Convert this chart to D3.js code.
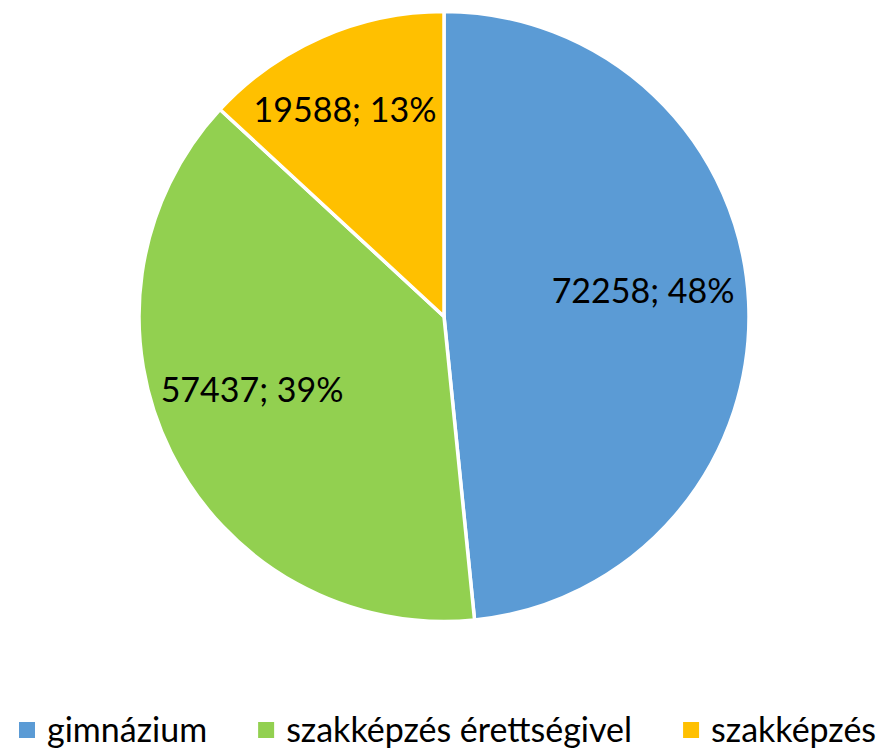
<html>
<head>
  <meta charset="utf-8">
  <title>Tanulók</title>
  <script src="https://d3js.org/d3.v7.min.js"></script>
</head>
<style type="text/css">
body { margin: 0; background: #fff; }
text { font-family: Lato, "Open Sans", sans-serif; fill: #000; }
</style>
<body>
<script>

// data
var categories = ["gimnázium", "szakképzés érettségivel", "szakképzés"];
var values = [72258, 57437, 19588];
var colors = ["#5B9BD5", "#92D050", "#FFC000"];

var width = 889,
    height = 748,
    cx = 444,
    cy = 316.5,
    radius = 305,
    fontSize = 34,
    labelR = [0.658, 0.674, 0.751],  // label distance, fraction of radius
    labelTurn = [-4.4, 5.5, -2];     // degrees off the slice middle

var total = d3.sum(values);

// whole percents that add up to 100 (largest remainder)
var raw = values.map(function(v) { return v / total * 100; });
var pcts = raw.map(Math.floor);
var left = 100 - d3.sum(pcts);
d3.range(raw.length)
  .sort(function(a, b) { return (raw[b] - pcts[b]) - (raw[a] - pcts[a]); })
  .slice(0, left)
  .forEach(function(k) { pcts[k] += 1; });

var svg = d3.select("body")
  .append("svg")
  .attr("width", width)
  .attr("height", height);

var pie = d3.pie().sort(null).value(function(d) { return d; });
var arcs = pie(values);

var arc = d3.arc().innerRadius(0).outerRadius(radius);

var g = svg.append("g")
  .attr("transform", "translate(" + cx + "," + cy + ")");

g.selectAll("path")
  .data(arcs)
  .enter()
  .append("path")
  .attr("d", arc)
  .attr("fill", function(d, i) { return colors[i]; })
  .attr("stroke", "#fff")
  .attr("stroke-width", 3.5)
  .attr("stroke-linejoin", "round");

g.selectAll("text.lbl")
  .data(arcs)
  .enter()
  .append("text")
  .attr("class", "lbl")
  .attr("transform", function(d, i) {
    var a = (d.startAngle + d.endAngle) / 2 + labelTurn[i] * Math.PI / 180,
        r = radius * labelR[i];
    return "translate(" + (Math.sin(a) * r) + "," + (-Math.cos(a) * r) + ")";
  })
  .attr("text-anchor", "middle")
  .attr("dy", "0.35em")
  .style("font-size", fontSize + "px")
  .text(function(d, i) { return d.data + "; " + pcts[i] + "%"; });

// legend, laid out left to right
var legend = svg.append("g").attr("transform", "translate(0,742)");
var lx = 19;
categories.forEach(function(c, i) {
  legend.append("rect")
    .attr("x", lx)
    .attr("y", -20)
    .attr("width", 16)
    .attr("height", 16)
    .attr("fill", colors[i]);
  var t = legend.append("text")
    .attr("x", lx + 28)
    .attr("y", 0)
    .style("font-size", fontSize + "px")
    .text(c);
  lx += 28 + t.node().getComputedTextLength() + 51;
});

</script>
</body>
</html>
